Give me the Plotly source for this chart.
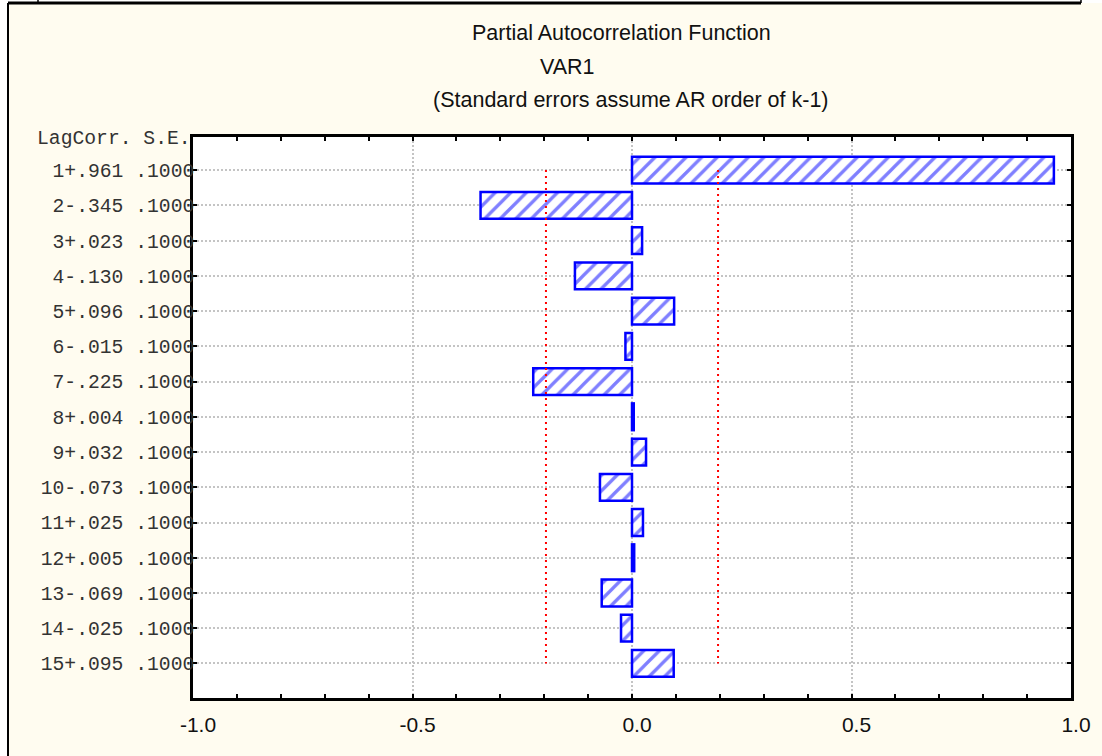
import plotly.graph_objects as go

# Partial autocorrelation function, VAR1
lags = list(range(1, 16))
pacf = [0.961, -0.345, 0.023, -0.130, 0.096, -0.015, -0.225, 0.004,
        0.032, -0.073, 0.025, 0.005, -0.069, -0.025, 0.095]
lag_labels = ["1+.961 .1000", "2-.345 .1000", "3+.023 .1000", "4-.130 .1000",
              "5+.096 .1000", "6-.015 .1000", "7-.225 .1000", "8+.004 .1000",
              "9+.032 .1000", "10-.073 .1000", "11+.025 .1000", "12+.005 .1000",
              "13-.069 .1000", "14-.025 .1000", "15+.095 .1000"]
conf_limit = 0.196  # 1.96 * S.E.
x_ticks = [-1.0, -0.5, 0.0, 0.5, 1.0]
x_tick_labels = ["-1.0", "-0.5", "0.0", "0.5", "1.0"]

CREAM = "#FFFCF0"
BLUE = "#0000FF"
W, H = 1102, 756
L, R, T, B = 193, 1071, 137, 698  # plot area in pixels


def px(x):
    return (x - L) / (R - L)


def py(y):
    return (B - y) / (B - T)


fig = go.Figure()

fig.add_trace(go.Bar(
    x=pacf, y=lags, orientation="h", width=0.76,
    marker=dict(color="white", line=dict(color=BLUE, width=2.5),
                pattern=dict(shape="/", fgcolor=BLUE, bgcolor="white",
                             size=11, solidity=0.3, fillmode="overlay")),
))

# confidence limits (red dotted)
for sign in (-1, 1):
    fig.add_trace(go.Scatter(
        x=[sign * conf_limit] * len(lags), y=lags, mode="lines",
        line=dict(color="#FF0000", width=2, dash="2px,4px"), hoverinfo="skip"))

# titles
title_font = dict(family="Liberation Sans, Arial, sans-serif", size=21.5, color="#111111")
for txt, cx, cy in [("Partial Autocorrelation Function", 621, 33),
                    ("VAR1", 567, 67),
                    ("(Standard errors assume AR order of k-1)", 631, 100)]:
    fig.add_annotation(text=txt, xref="paper", yref="paper", x=px(cx), y=py(cy),
                       xanchor="center", yanchor="middle", showarrow=False,
                       font=title_font)

mono = dict(family="Liberation Mono, Courier New, monospace", size=19.7, color="#333333")
fig.add_annotation(text="LagCorr. S.E.", xref="paper", yref="paper",
                   x=px(193), y=py(139), xanchor="right", yanchor="middle",
                   showarrow=False, font=mono)

# outer window frame
shapes = [
    dict(type="rect", xref="paper", yref="paper", x0=px(0), x1=px(8), y0=py(756), y1=py(0),
         fillcolor="white", line_width=0, layer="below"),
    dict(type="rect", xref="paper", yref="paper", x0=px(0), x1=px(W), y0=py(3), y1=py(0),
         fillcolor="white", line_width=0, layer="below"),
    dict(type="line", xref="paper", yref="paper", x0=px(8), x1=px(8), y0=py(756), y1=py(3),
         line=dict(color="black", width=2)),
    dict(type="line", xref="paper", yref="paper", x0=px(8), x1=px(1081), y0=py(3), y1=py(3),
         line=dict(color="black", width=3)),
    dict(type="line", xref="paper", yref="paper", x0=px(38), x1=px(38), y0=py(3), y1=py(0),
         line=dict(color="black", width=1.5)),
    dict(type="line", xref="paper", yref="paper", x0=px(1081), x1=px(1081), y0=py(3), y1=py(0),
         line=dict(color="black", width=1.5)),
]

fig.update_layout(
    width=W, height=H,
    margin=dict(l=L, r=W - R, t=T, b=H - B),
    paper_bgcolor=CREAM, plot_bgcolor="white",
    showlegend=False, shapes=shapes,
)

grid = dict(showgrid=True, gridcolor="#c4c4c4", gridwidth=2, griddash="2px,2px",
            zeroline=False, showline=True, linecolor="black", linewidth=2.5,
            mirror="allticks", ticks="inside", ticklen=4, tickwidth=2, tickcolor="black")

fig.update_xaxes(range=[-1, 1], tickvals=x_ticks, ticktext=x_tick_labels,
                 minor=dict(dtick=0.1, tick0=-1, ticks="inside", ticklen=4,
                            tickwidth=2, tickcolor="black", showgrid=False),
                 tickfont=dict(family="Liberation Sans, Arial, sans-serif", size=21,
                               color="#111111"),
                 ticklabelshift=5, ticklabelstandoff=6, **grid)
fig.update_yaxes(range=[15.98, 0.06], tickvals=lags, ticktext=lag_labels,
                 tickfont=mono, ticklabelstandoff=-8, **grid)

fig.write_html("out.html", config={"displayModeBar": False},
               post_script="document.body.style.margin='0';")
